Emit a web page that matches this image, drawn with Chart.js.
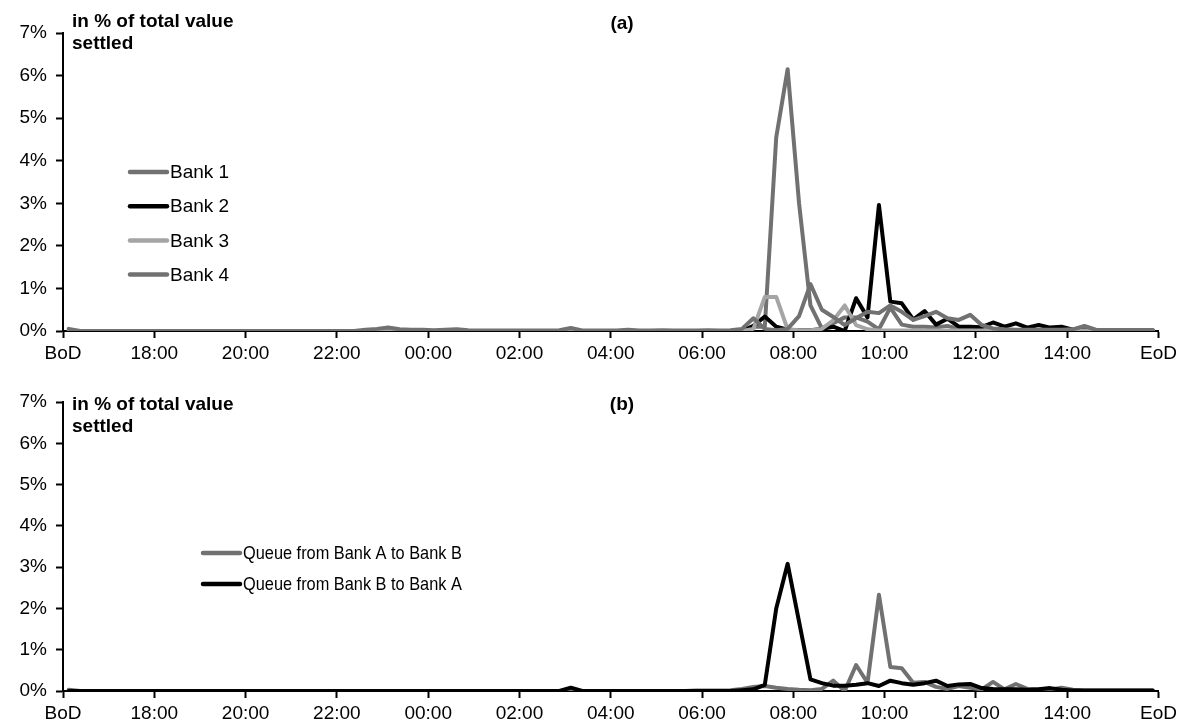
<!DOCTYPE html>
<html>
<head>
<meta charset="utf-8">
<script src="https://cdn.jsdelivr.net/npm/chart.js@4.4.1/dist/chart.umd.min.js"></script>
<style>
  html, body { margin: 0; padding: 0; background: #ffffff; }
  #wrap { position: relative; width: 1181px; height: 725px; overflow: hidden; background: #fff; }
  #c1 { position: absolute; left: 0; top: 0; }
  #c2 { position: absolute; left: 0; top: 362px; }
</style>
</head>
<body>
<div id="wrap">
  <canvas id="c1" width="1181" height="375"></canvas>
  <canvas id="c2" width="1181" height="363"></canvas>
</div>
<script>
// ---- tick labels (x axis, every 2 hours from BoD = 16:00 to EoD) ----
const timeLabels = ['BoD','18:00','20:00','22:00','00:00','02:00','04:00','06:00','08:00','10:00','12:00','14:00','EoD'];
const yTickValues = [0,1,2,3,4,5,6,7];

// ---- panel (a): share of total value settled, 15-minute slots from BoD ----
const bank1 = [
  0,0,0,0,0,0,0,0,
  0,0,0,0,0,0,0,0,
  0,0,0,0,0,0,0,0,
  0,0,0,0,0,0,0,0,
  0,0,0,0,0,0,0,0,
  0,0,0,0,0,0,0,0,
  0,0,0,0,0,0,0,0,
  0,0,0,0.02,0.1,0.1,4.55,6.15,
  3.0,0.6,0.06,0.18,0.32,0.32,0.22,0.04,
  0.55,0.15,0.1,0.1,0.08,0.12,0.05,0.05,
  0.04,0.02,0.02,0.02,0.02,0.02,0.02,0.02,
  0.02,0.02,0.02,0.02,0.02,0.02,0.02,0.02
];
const bank2 = [
  0,0,0,0,0,0,0,0,
  0,0,0,0,0,0,0,0,
  0,0,0,0,0,0,0,0,
  0,0,0,0,0,0,0,0,
  0,0,0,0,0,0,0,0,
  0,0,0,0,0,0,0,0,
  0,0,0,0,0,0,0,0,
  0,0,0,0,0.12,0.34,0.1,0.03,
  0.02,0.02,0.05,0.1,0,0.77,0.32,2.96,
  0.69,0.65,0.27,0.47,0.15,0.29,0.1,0.1,
  0.09,0.2,0.1,0.18,0.08,0.14,0.08,0.1,
  0.03,0.02,0.01,0.01,0.01,0.01,0.01,0.01
];
const bank3 = [
  0,0,0,0,0,0,0,0,
  0,0,0,0,0,0,0,0,
  0,0,0,0,0,0,0,0,
  0,0,0,0,0,0,0,0,
  0,0,0,0,0,0,0,0,
  0,0,0,0,0,0,0,0,
  0,0,0,0,0,0,0,0,
  0,0,0,0,0.05,0.8,0.8,0.04,
  0.02,0.02,0.05,0.25,0.6,0.14,0.04,0.01,
  0.01,0.01,0.01,0.01,0.01,0.01,0.01,0.01,
  0.01,0.01,0.01,0.01,0.01,0.01,0.01,0.01,
  0.01,0.01,0.01,0.01,0.01,0.01,0.01,0.01
];
const bank4 = [
  0.05,0,0,0,0,0,0,0,
  0,0,0,0,0,0,0,0,
  0,0,0,0,0,0,0,0,
  0,0,0.03,0.05,0.08,0.04,0.03,0.03,
  0.02,0.03,0.04,0.02,0.01,0.01,0.01,0.01,
  0.01,0.01,0.01,0.02,0.07,0.01,0.01,0.01,
  0.01,0.03,0.01,0.01,0.02,0.01,0.01,0.01,
  0.02,0.01,0.02,0.05,0.3,0.05,0.02,0.05,
  0.35,1.1,0.5,0.33,0.14,0.3,0.45,0.42,
  0.6,0.45,0.26,0.35,0.45,0.3,0.26,0.38,
  0.14,0.06,0.04,0.03,0.03,0.03,0.03,0.03,
  0.04,0.12,0.03,0.02,0.02,0.02,0.02,0.02
];

// ---- panel (b): queues ----
const queueAtoB = [
  0.03,0,0,0,0,0,0,0,
  0,0,0,0,0,0,0,0,
  0,0,0,0,0,0,0,0,
  0,0,0,0,0,0,0,0,
  0,0,0,0,0,0,0,0,
  0,0,0,0,0,0,0,0,
  0,0,0,0,0,0,0,0.01,
  0.01,0.01,0.02,0.05,0.1,0.12,0.08,0.05,
  0.03,0.02,0.05,0.25,0,0.63,0.2,2.33,
  0.58,0.55,0.2,0.22,0.1,0.05,0.12,0.08,
  0.04,0.22,0.04,0.17,0.05,0.04,0.03,0.08,
  0.03,0.01,0.01,0.01,0.01,0.01,0.01,0.01
];
const queueBtoA = [
  0,0,0,0,0,0,0,0,
  0,0,0,0,0,0,0,0,
  0,0,0,0,0,0,0,0,
  0,0,0,0,0,0,0,0,
  0,0,0,0,0,0,0,0,
  0,0,0,0,0.08,0,0,0,
  0,0,0,0,0,0,0,0,
  0,0,0,0.02,0.04,0.15,2.0,3.08,
  1.68,0.28,0.19,0.13,0.13,0.15,0.19,0.12,
  0.25,0.19,0.15,0.19,0.25,0.12,0.16,0.17,
  0.07,0.05,0.04,0.04,0.03,0.04,0.07,0.03,
  0.01,0.01,0.01,0.01,0.01,0.01,0.01,0.01
];

const seriesNamesA = ['Bank 1','Bank 2','Bank 3','Bank 4'];
const seriesNamesB = ['Queue from Bank A to Bank B','Queue from Bank B to Bank A'];

// ---- helpers ----
const FONT = "'Liberation Sans', Arial, sans-serif";
const TICK_SIZE = 19;
function toPoints(arr) { return arr.map((v, k) => ({ x: k + 0.5, y: v })); }

function lineDs(label, arr, color, order) {
  return {
    label, data: toPoints(arr), borderColor: color, backgroundColor: color,
    borderWidth: 4, pointRadius: 0, tension: 0, order,
    borderJoinStyle: 'round', borderCapStyle: 'round'
  };
}

const decorPlugin = {
  id: 'decor',
  afterDatasetsDraw(chart, args, opts) {
    const ctx = chart.ctx;
    ctx.save();
    ctx.fillStyle = '#000';
    ctx.textBaseline = 'middle';
    ctx.textAlign = 'left';
    ctx.font = 'bold 19px ' + FONT;
    opts.titleLines.forEach((t, i) => ctx.fillText(t, opts.titleX, opts.titleY + i * opts.titleGap));
    ctx.textAlign = 'center';
    ctx.fillText(opts.panel, opts.panelX, opts.panelY);
    ctx.font = '19px ' + FONT;
    ctx.textAlign = 'left';
    chart.data.datasets.forEach((ds, i) => {
      const y = opts.legY + i * opts.legGap;
      ctx.strokeStyle = ds.borderColor;
      ctx.lineWidth = 4.5;
      ctx.lineCap = 'round';
      ctx.beginPath();
      ctx.moveTo(opts.legX0, y);
      ctx.lineTo(opts.legX1, y);
      ctx.stroke();
      ctx.fillStyle = '#000';
      ctx.save();
      ctx.translate(opts.legX1 + 3, y + 1);
      ctx.scale(opts.legScaleX, 1);
      ctx.fillText(ds.label, 0, 0);
      ctx.restore();
    });
    ctx.restore();
  }
};

function makeOptions(padTop, axisH, decor) {
  return {
    responsive: false,
    animation: false,
    devicePixelRatio: 1,
    layout: { padding: { top: padTop, right: 18, left: 0, bottom: 0 } },
    plugins: { legend: { display: false }, tooltip: { enabled: false }, decor },
    scales: {
      x: {
        type: 'linear', min: 0, max: 96,
        afterFit(s) { s.height = axisH; },
        afterBuildTicks(s) { s.ticks = timeLabels.map((_, i) => ({ value: i * 8 })); },
        ticks: {
          callback: (v) => timeLabels[Math.round(v / 8)],
          color: '#000', font: { family: FONT, size: TICK_SIZE }, padding: 4,
          maxRotation: 0, autoSkip: false
        },
        grid: { drawOnChartArea: false, drawTicks: true, tickLength: 7, tickWidth: 2, color: '#000' },
        border: { display: true, color: '#000', width: 2 }
      },
      y: {
        min: 0, max: 7,
        afterFit(s) { s.width = 63; },
        afterBuildTicks(s) { s.ticks = yTickValues.map(v => ({ value: v })); },
        ticks: {
          callback: (v) => v + '%',
          color: '#000', font: { family: FONT, size: TICK_SIZE }, padding: 9
        },
        grid: { drawOnChartArea: false, drawTicks: true, tickLength: 7, tickWidth: 2, color: '#000' },
        border: { display: true, color: '#000', width: 2 }
      }
    }
  };
}

new Chart(document.getElementById('c1'), {
  type: 'line',
  data: {
    datasets: [
      lineDs(seriesNamesA[0], bank1, '#717171', 4),
      lineDs(seriesNamesA[1], bank2, '#000000', 3),
      lineDs(seriesNamesA[2], bank3, '#a5a5a5', 2),
      lineDs(seriesNamesA[3], bank4, '#717171', 1)
    ]
  },
  options: makeOptions(33, 375 - 331, {
    titleLines: ['in % of total value', 'settled'], titleX: 72, titleY: 22, titleGap: 22,
    panel: '(a)', panelX: 622, panelY: 24,
    legX0: 130, legX1: 167, legY: 172, legGap: 34.2, legScaleX: 1
  }),
  plugins: [decorPlugin]
});

new Chart(document.getElementById('c2'), {
  type: 'line',
  data: {
    datasets: [
      lineDs(seriesNamesB[0], queueAtoB, '#717171', 2),
      lineDs(seriesNamesB[1], queueBtoA, '#000000', 1)
    ]
  },
  options: makeOptions(40, 363 - 329, {
    titleLines: ['in % of total value', 'settled'], titleX: 72, titleY: 43, titleGap: 22,
    panel: '(b)', panelX: 622, panelY: 43,
    legX0: 203, legX1: 240, legY: 191, legGap: 31, legScaleX: 0.86
  }),
  plugins: [decorPlugin]
});
</script>
</body>
</html>
